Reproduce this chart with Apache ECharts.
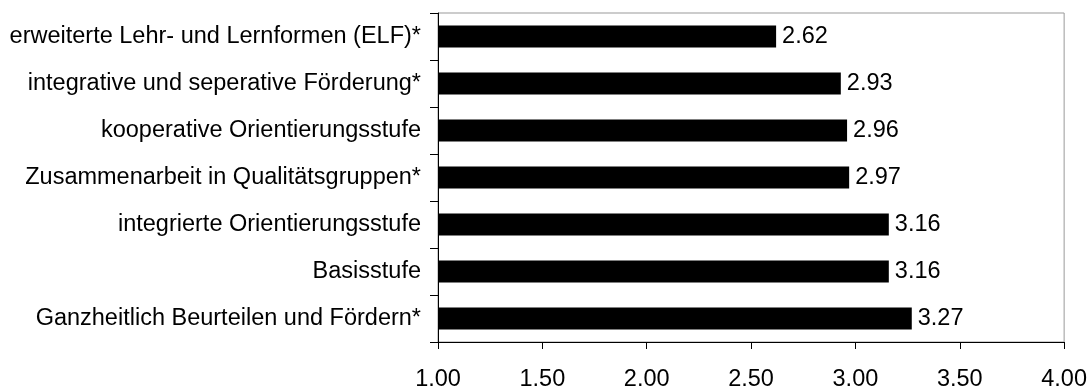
<!DOCTYPE html>
<html>
<head>
<meta charset="utf-8">
<script src="https://cdn.jsdelivr.net/npm/echarts@6/dist/echarts.min.js"></script>
<style>
  html, body { margin: 0; padding: 0; background: #fff; }
  #chart { width: 1090px; height: 392px; }
</style>
</head>
<body>
<div id="chart"></div>
<script>
// categories, top to bottom as shown
const categories = [
  "erweiterte Lehr- und Lernformen (ELF)*",
  "integrative und seperative Förderung*",
  "kooperative Orientierungsstufe",
  "Zusammenarbeit in Qualitätsgruppen*",
  "integrierte Orientierungsstufe",
  "Basisstufe",
  "Ganzheitlich Beurteilen und Fördern*"
];
const values = [2.62, 2.93, 2.96, 2.97, 3.16, 3.16, 3.27];
const xTicks = [1.0, 1.5, 2.0, 2.5, 3.0, 3.5, 4.0];

const font = "Liberation Sans, Arial, sans-serif";
const fs = 23.5;
const chart = echarts.init(document.getElementById("chart"));

const option = {
  animation: false,
  backgroundColor: "#fff",
  grid: {
    left: 438,
    right: 24,
    top: 13,
    bottom: 48,
    show: true,
    borderColor: "#999",
    borderWidth: 1,
    backgroundColor: "#fff"
  },
  xAxis: {
    type: "value",
    min: xTicks[0],
    max: xTicks[xTicks.length - 1],
    interval: 0.5,
    axisLine: { show: true, lineStyle: { color: "#000", width: 1 } },
    axisTick: { show: true, inside: false, length: 7, lineStyle: { color: "#000" } },
    splitLine: { show: false },
    axisLabel: {
      margin: 26,
      color: "#000",
      fontFamily: font,
      fontSize: fs,
      formatter: (v) => v.toFixed(2)
    }
  },
  yAxis: {
    type: "category",
    data: categories,
    inverse: true,
    axisLine: { show: true, lineStyle: { color: "#000", width: 1 } },
    axisTick: { show: true, inside: false, length: 8, lineStyle: { color: "#000" } },
    splitLine: { show: false },
    axisLabel: {
      margin: 17,
      color: "#000",
      fontFamily: font,
      fontSize: fs
    }
  },
  series: [
    {
      type: "bar",
      data: values,
      barWidth: 22,
      itemStyle: { color: "#000" },
      label: {
        show: true,
        position: "right",
        distance: 6,
        color: "#000",
        fontFamily: font,
        fontSize: fs,
        formatter: (p) => p.value.toFixed(2)
      }
    }
  ]
};

chart.setOption(option);
</script>
</body>
</html>
